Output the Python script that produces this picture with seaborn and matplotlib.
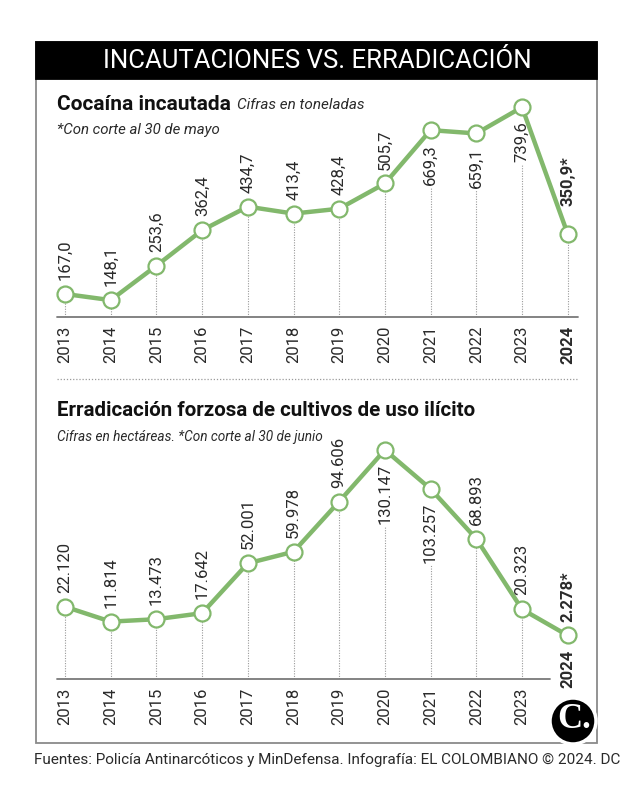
import matplotlib
matplotlib.use("Agg")
import matplotlib.pyplot as plt
import seaborn as sns
import pandas as pd
from matplotlib.patches import Rectangle, Ellipse
from matplotlib.lines import Line2D

# datos
years = [2013, 2014, 2015, 2016, 2017, 2018, 2019, 2020, 2021, 2022, 2023, 2024]
year_labels = [str(y) for y in years]

cocaina = [167.0, 148.1, 253.6, 362.4, 434.7, 413.4, 428.4, 505.7, 669.3, 659.1, 739.6, 350.9]
cocaina_txt = ["167,0", "148,1", "253,6", "362,4", "434,7", "413,4", "428,4",
               "505,7", "669,3", "659,1", "739,6", "350,9*"]
cocaina_abajo = [False] * 8 + [True, True, True, False]

erradicacion = [22120, 11814, 13473, 17642, 52001, 59978, 94606, 130147, 103257, 68893, 20323, 2278]
erradicacion_txt = ["22.120", "11.814", "13.473", "17.642", "52.001", "59.978", "94.606",
                    "130.147", "103.257", "68.893", "20.323", "2.278*"]
erradicacion_abajo = [False] * 7 + [True, True, False, False, False]

sns.set_theme(style="white")
plt.rcParams["font.family"] = ["Roboto", "DejaVu Sans"]

GREEN = "#82b86c"
GRID = "#9a9a9a"
TXT = "#2a2a2a"
W, H = 638, 809
fig = plt.figure(figsize=(W / 100, H / 100), dpi=100)


def fx(x):
    return x / W


def fy(y):
    return 1 - y / H


def add_ax(left, top, right, bottom):
    ax = fig.add_axes([fx(left), fy(bottom), (right - left) / W, (bottom - top) / H])
    ax.patch.set_alpha(0)
    for s in ax.spines.values():
        s.set_visible(False)
    ax.set_yticks([])
    return ax


# marco y cabecera
fig.add_artist(Rectangle((fx(36), fy(743)), (597 - 36) / W, (743 - 42) / H,
                         transform=fig.transFigure, fill=False, ec="#8a8a8a", lw=1.3))
fig.add_artist(Rectangle((fx(36), fy(79)), (597 - 36) / W, (79 - 42) / H,
                         transform=fig.transFigure, fc="black", ec="black", lw=1.3))
fig.text(fx(317), fy(61), "INCAUTACIONES VS. ERRADICACIÓN", color="white",
         fontsize=18.5, ha="center", va="center")


def panel(ax, values, texts, below, ymin, ymax, base_end, n_ticks, last_off):
    df = pd.DataFrame({"anio": years, "valor": values})
    ax.set_xlim(2012.825, 2024.225)
    ax.set_ylim(ymin, ymax)
    sns.lineplot(data=df, x="anio", y="valor", ax=ax, color=GREEN, lw=3.2,
                 marker="o", ms=11.5, mfc="white", mec=GREEN, mew=1.6,
                 zorder=3, clip_on=False)
    ax.axhline(ymin, xmax=base_end, color="#7a7a7a", lw=1.3, clip_on=False)
    ax.set_xlabel("")
    ax.set_ylabel("")
    ax.set_xticks(years[:n_ticks])
    ax.set_xticklabels(year_labels[:n_ticks], rotation=90, fontsize=12, color=TXT)
    ax.tick_params(axis="x", length=0, pad=6)

    anns = []
    for i, (x, v, t, b) in enumerate(zip(years, values, texts, below)):
        off = last_off if i == len(years) - 1 else 10
        a = ax.annotate(t, (x, v), xytext=(0, -off if b else off), textcoords="offset points",
                        rotation=90, ha="center", va="top" if b else "bottom",
                        fontsize=12, color=TXT,
                        fontweight="bold" if t.endswith("*") else "normal", zorder=4)
        anns.append(a)
    return anns


# panel superior
ax1 = add_ax(57, 95, 578, 317)
anns1 = panel(ax1, cocaina, cocaina_txt, cocaina_abajo, 96.4, 777, 1.0, len(years), 20)
ax1.get_xticklabels()[-1].set_fontweight("bold")

fig.text(fx(57), fy(104), "Cocaína incautada", fontsize=15, fontweight="bold",
         va="center", color="#111")
fig.text(fx(57), fy(130), "*Con corte al 30 de mayo", fontsize=10.8, style="italic",
         va="center", color=TXT)

# separador
fig.add_artist(Line2D([fx(57), fx(577)], [fy(379), fy(379)], transform=fig.transFigure,
                      ls=(0, (1, 1.5)), color=GRID, lw=0.9))

# panel inferior
ax2 = add_ax(57, 440, 578, 679)
anns2 = panel(ax2, erradicacion, erradicacion_txt, erradicacion_abajo, -27740, 137000,
              (550 - 57) / (578 - 57), len(years) - 1, 10)
ax2.annotate(year_labels[-1], (years[-1], erradicacion[-1]), xytext=(0, -10),
             textcoords="offset points", rotation=90, ha="center", va="top",
             fontsize=12, fontweight="bold", color=TXT)

fig.text(fx(57), fy(410), "Erradicación forzosa de cultivos de uso ilícito", fontsize=14.8,
         fontweight="bold", va="center", color="#111")
fig.text(fx(57), fy(437), "Cifras en hectáreas. *Con corte al 30 de junio", fontsize=9.8,
         style="italic", va="center", color=TXT)

fig.text(fx(34), fy(760),
         "Fuentes: Policía Antinarcóticos y MinDefensa. Infografía: EL COLOMBIANO © 2024. DC",
         fontsize=11, va="center", color=TXT)

# logo
fig.add_artist(Ellipse((fx(573), fy(721)), 46 / W, 46 / H, transform=fig.transFigure,
                       fc="black", ec="white", lw=2.5, zorder=5))
fig.text(fx(574), fy(720), "C.", color="white", fontsize=25, fontweight="bold",
         family="Liberation Serif", ha="center", va="center", zorder=6)

# líneas punteadas y texto secundario junto al título
fig.canvas.draw()
r = fig.canvas.get_renderer()

t1 = [t for t in fig.texts if t.get_text() == "Cocaína incautada"][0]
bb = t1.get_window_extent(r)
fig.text((bb.x1 + 6) / W, fy(105), "Cifras en toneladas", fontsize=11, style="italic",
         va="center", color=TXT)


def dotted(ax, values, below, anns, n):
    ymin = ax.get_ylim()[0]
    for x, v, b, a in list(zip(years, values, below, anns))[:n]:
        top = v
        if b:
            y0 = a.get_window_extent(r).y0 - 2
            top = ax.transData.inverted().transform((0, y0))[1]
        ax.vlines(x, ymin, top, colors=GRID, linestyles=(0, (1, 1.3)), lw=0.8, zorder=1)


dotted(ax1, cocaina, cocaina_abajo, anns1, len(years))
dotted(ax2, erradicacion, erradicacion_abajo, anns2, len(years) - 1)

fig.savefig("out.png", dpi=100)
